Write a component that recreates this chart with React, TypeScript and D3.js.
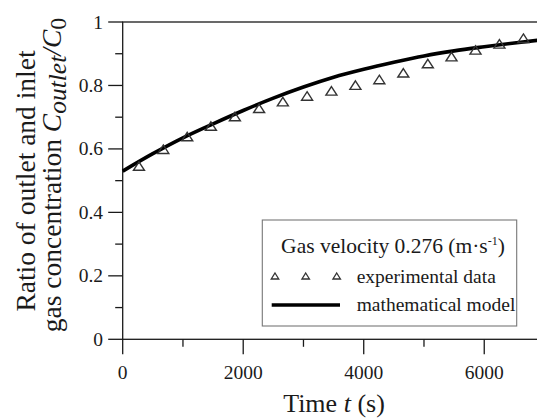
import * as d3 from "d3";

const W = 537;
const H = 419;
const LEFT = 122.7;
const RIGHT = 544.5;
const TOP = 22;
const BOTTOM = 339.3;

// experimental points (time in s, Coutlet/C0)
const expTime = [270, 674, 1071, 1464, 1862, 2264, 2658, 3060, 3464, 3862, 4259, 4657, 5064, 5457, 5855, 6252, 6650];
const expRatio = [0.546, 0.599, 0.639, 0.672, 0.702, 0.728, 0.749, 0.767, 0.783, 0.801, 0.819, 0.84, 0.869, 0.891, 0.912, 0.931, 0.949];

// model curve
const modelTime = [0, 500, 1000, 1500, 2000, 2500, 3000, 3500, 4000, 4500, 5000, 5500, 6000, 6500, 7000];
const modelRatio = [0.53, 0.585, 0.635, 0.679, 0.721, 0.76, 0.795, 0.826, 0.851, 0.873, 0.893, 0.909, 0.922, 0.934, 0.945];

const xMajor = [0, 2000, 4000, 6000];
const xMinor = [1000, 3000, 5000];
const yMajor = [0, 0.2, 0.4, 0.6, 0.8, 1];
const yMinor = [0.1, 0.3, 0.5, 0.7, 0.9];
const yLabels = ["0", "0.2", "0.4", "0.6", "0.8", "1"];

const SERIF = "Liberation Serif, Times New Roman, serif";
const INK = "#1a1a1a";

function triPath(w: number, h: number) {
  const p = d3.path();
  p.moveTo(0, -h / 2);
  p.lineTo(w / 2, h / 2);
  p.lineTo(-w / 2, h / 2);
  p.closePath();
  return p.toString();
}

export default function App() {
  const x = d3.scaleLinear().domain([0, 7000]).range([LEFT, RIGHT]);
  const y = d3.scaleLinear().domain([0, 1]).range([BOTTOM, TOP]);

  const model = modelTime.map((t, i) => [t, modelRatio[i]] as [number, number]);
  const line = d3
    .line<[number, number]>()
    .x((d) => x(d[0]))
    .y((d) => y(d[1]))
    .curve(d3.curveMonotoneX);

  const bigTri = triPath(11, 8.5);
  const smallTri = triPath(7.5, 6);

  return (
    <svg
      width={W}
      height={H}
      viewBox={`0 0 ${W} ${H}`}
      style={{ position: "absolute", left: 0, top: 0, background: "#fff" }}
    >
      <rect width={W} height={H} fill="#fff" />
      {/* frame */}
      <rect x={LEFT} y={TOP} width={RIGHT - LEFT} height={BOTTOM - TOP} fill="none" stroke={INK} strokeWidth={1.3} />

      {/* y ticks */}
      {yMajor.map((v, i) => (
        <g key={`ym${v}`}>
          <line x1={LEFT - 14.5} x2={LEFT} y1={y(v)} y2={y(v)} stroke={INK} strokeWidth={1.3} />
          <text x={103} y={y(v) + 6.5} fontFamily={SERIF} fontSize={19.5} textAnchor="end" fill={INK}>
            {yLabels[i]}
          </text>
        </g>
      ))}
      {yMinor.map((v) => (
        <line key={`yn${v}`} x1={LEFT - 7.5} x2={LEFT} y1={y(v)} y2={y(v)} stroke={INK} strokeWidth={1.3} />
      ))}

      {/* x ticks */}
      {xMajor.map((v) => (
        <g key={`xm${v}`}>
          <line x1={x(v)} x2={x(v)} y1={BOTTOM} y2={BOTTOM + 15} stroke={INK} strokeWidth={1.3} />
          <text x={x(v)} y={379} fontFamily={SERIF} fontSize={19.5} textAnchor="middle" fill={INK}>
            {v}
          </text>
        </g>
      ))}
      {xMinor.map((v) => (
        <line key={`xn${v}`} x1={x(v)} x2={x(v)} y1={BOTTOM} y2={BOTTOM + 7.5} stroke={INK} strokeWidth={1.3} />
      ))}

      {/* model */}
      <path d={line(model) ?? ""} fill="none" stroke="#000" strokeWidth={3.6} />

      {/* experimental data */}
      {expTime.map((t, i) => (
        <path
          key={`e${i}`}
          d={bigTri}
          transform={`translate(${x(t)},${y(expRatio[i])})`}
          fill="none"
          stroke="#333"
          strokeWidth={1.4}
        />
      ))}

      {/* axis titles */}
      <text x={334} y={412} fontFamily={SERIF} fontSize={26} textAnchor="middle" fill={INK}>
        Time <tspan fontStyle="italic">t</tspan> (s)
      </text>
      <text transform="translate(35,181) rotate(-90)" fontFamily={SERIF} fontSize={27.5} textAnchor="middle" fill={INK}>
        Ratio of outlet and inlet
      </text>
      <text transform="translate(60.5,175) rotate(-90)" fontFamily={SERIF} fontSize={27.5} textAnchor="middle" fill={INK}>
        gas concentration <tspan fontStyle="italic">C</tspan>
        <tspan fontStyle="italic" fontSize={25.5} dy={5}>outlet</tspan>
        <tspan fontStyle="italic" dy={-5}>/C</tspan>
        <tspan fontSize={24} dy={5}>0</tspan>
      </text>

      {/* legend */}
      <rect x={262.3} y={220} width={254.4} height={106} fill="#fff" stroke="#777" strokeWidth={1.1} />
      <text x={393} y={253} fontFamily={SERIF} fontSize={21.5} textAnchor="middle" fill={INK}>
        Gas velocity 0.276 (m·s
        <tspan fontSize={12} dy={-8}>-1</tspan>
        <tspan dy={8}>)</tspan>
      </text>
      {[275, 305.7, 336.7].map((lx) => (
        <path key={`l${lx}`} d={smallTri} transform={`translate(${lx},276)`} fill="none" stroke="#333" strokeWidth={1.3} />
      ))}
      <text x={356.7} y={283} fontFamily={SERIF} fontSize={19.5} fill={INK}>
        experimental data
      </text>
      <line x1={271.7} x2={340} y1={305} y2={305} stroke="#000" strokeWidth={3.6} />
      <text x={356.7} y={311} fontFamily={SERIF} fontSize={19.5} fill={INK}>
        mathematical model
      </text>
    </svg>
  );
}
